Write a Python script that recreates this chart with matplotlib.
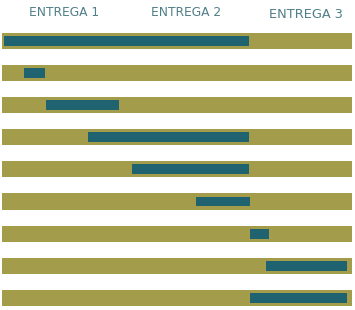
import matplotlib
matplotlib.use("Agg")
import matplotlib.pyplot as plt

# Data (time units along x)
tasks = list(range(9))
start = [0.2, 2.2, 4.4, 8.6, 13.0, 19.4, 24.8, 26.4, 24.8]
end   = [24.7, 4.3, 11.7, 24.7, 24.7, 24.8, 26.7, 34.5, 34.5]
total_start = 0.0
total_end = 35.0
headers = ["ENTREGA 1", "ENTREGA 2", "ENTREGA 3"]
header_x = [6.25, 18.45, 30.4]
header_y = [-0.903, -0.903, -0.826]
header_size = [8.8, 8.8, 9.3]

olive = "#a39c4a"
teal = "#1f6270"
head_col = "#4f7f88"

fig = plt.figure(figsize=(3.55, 3.10), dpi=100)
ax = fig.add_axes([0, 0, 1, 1])

for i in tasks:
    ax.barh(i, total_end - total_start, left=total_start, height=0.5, color=olive, edgecolor="none")
    ax.barh(i, end[i] - start[i], left=start[i], height=0.31, color=teal, edgecolor="none")

for h, x, y, s in zip(headers, header_x, header_y, header_size):
    ax.text(x, y, h, ha="center", va="center", fontsize=s, color=head_col,
            family="DejaVu Sans")

ax.set_xlim(-0.2, 35.3)
ax.set_ylim(8.38, -1.277)
ax.axis("off")

fig.savefig("out.png", dpi=100)
